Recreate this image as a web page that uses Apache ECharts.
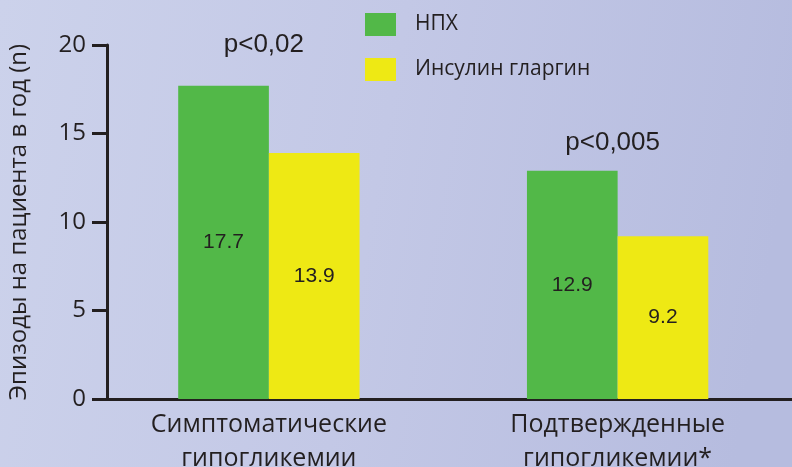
<!DOCTYPE html>
<html>
<head>
<meta charset="utf-8">
<script src="https://cdn.jsdelivr.net/npm/echarts@6/dist/echarts.min.js"></script>
<style>
  html, body { margin: 0; padding: 0; }
  #chart { width: 792px; height: 467px; }
</style>
</head>
<body>
<div id="chart"></div>
<script>
// Hypoglycaemia episodes per patient-year: NPH vs insulin glargine
const categories = ['Симптоматические\nгипогликемии', 'Подтвержденные\nгипогликемии*'];
const seriesNames = ['НПХ', 'Инсулин гларгин'];
const nphValues = [17.7, 12.9];
const glargineValues = [13.9, 9.2];
const yTicks = [0, 5, 10, 15, 20];
const pValues = ['p<0,02', 'p<0,005'];
const pLevels = [20, 14.5];

const INK = '#231f20';
const GREEN = '#52b848';
const YELLOW = '#eee914';

const chart = echarts.init(document.getElementById('chart'), null, { renderer: 'canvas' });

const barLabel = {
  show: true,
  position: 'inside',
  fontFamily: 'Liberation Sans, Arial, sans-serif',
  fontSize: 21,
  color: INK,
  formatter: p => p.value.toFixed(1)
};

chart.setOption({
  animation: false,
  backgroundColor: {
    type: 'linear', x: 0, y: 0, x2: 1, y2: 0.3,
    colorStops: [
      { offset: 0, color: '#ccd2eb' },
      { offset: 0.5, color: '#c3c8e6' },
      { offset: 1, color: '#b6bcdf' }
    ]
  },
  textStyle: { fontFamily: 'Open Sans, Noto Sans, sans-serif', color: INK },
  legend: {
    data: seriesNames,
    orient: 'vertical',
    left: 365,
    top: 13,
    padding: 0,
    itemWidth: 31,
    itemHeight: 23,
    itemGap: 22,
    icon: 'rect',
    textStyle: {
      fontFamily: 'Open Sans, Noto Sans, sans-serif',
      fontSize: 21,
      lineHeight: 23,
      color: INK,
      padding: [0, 0, 0, 14]
    }
  },
  grid: {
    left: 94.5, right: 0, top: 45, bottom: 68,
    containLabel: false,
    outerBoundsMode: 'none'
  },
  xAxis: {
    type: 'category',
    data: categories,
    axisTick: { show: false },
    axisLine: { lineStyle: { color: INK, width: 3 } },
    axisLabel: {
      fontFamily: 'Open Sans, Noto Sans, sans-serif',
      fontSize: 25,
      lineHeight: 34,
      color: INK,
      margin: 9
    }
  },
  yAxis: {
    type: 'value',
    min: yTicks[0],
    max: yTicks[yTicks.length - 1],
    interval: yTicks[1] - yTicks[0],
    offset: -12.5,
    name: 'Эпизоды на пациента в год (n)',
    nameLocation: 'middle',
    nameGap: 76,
    nameTextStyle: {
      fontFamily: 'Open Sans, Noto Sans, sans-serif',
      fontSize: 24,
      color: INK
    },
    splitLine: { show: false },
    axisLine: { show: true, lineStyle: { color: INK, width: 3 } },
    axisTick: { show: true, length: 15, lineStyle: { color: INK, width: 3 } },
    axisLabel: {
      fontFamily: 'Open Sans, Noto Sans, sans-serif',
      fontSize: 24,
      color: INK,
      margin: 21
    }
  },
  series: [
    {
      name: seriesNames[0],
      type: 'bar',
      data: nphValues,
      itemStyle: { color: GREEN },
      barGap: '0%',
      barCategoryGap: '48%',
      label: barLabel
    },
    {
      name: seriesNames[1],
      type: 'bar',
      data: glargineValues,
      itemStyle: { color: YELLOW },
      label: barLabel
    }
  ]
});

// significance annotations placed above each category group
const pText = pValues.map((txt, i) => {
  const pt = chart.convertToPixel({ gridIndex: 0 }, [i, pLevels[i]]);
  return {
    type: 'text',
    x: pt[0] - 5,
    y: pt[1],
    style: {
      text: txt,
      fontFamily: 'Liberation Sans, Arial, sans-serif',
      fontSize: 26,
      fill: INK,
      align: 'center',
      verticalAlign: 'middle'
    }
  };
});
chart.setOption({ graphic: pText });
</script>
</body>
</html>
